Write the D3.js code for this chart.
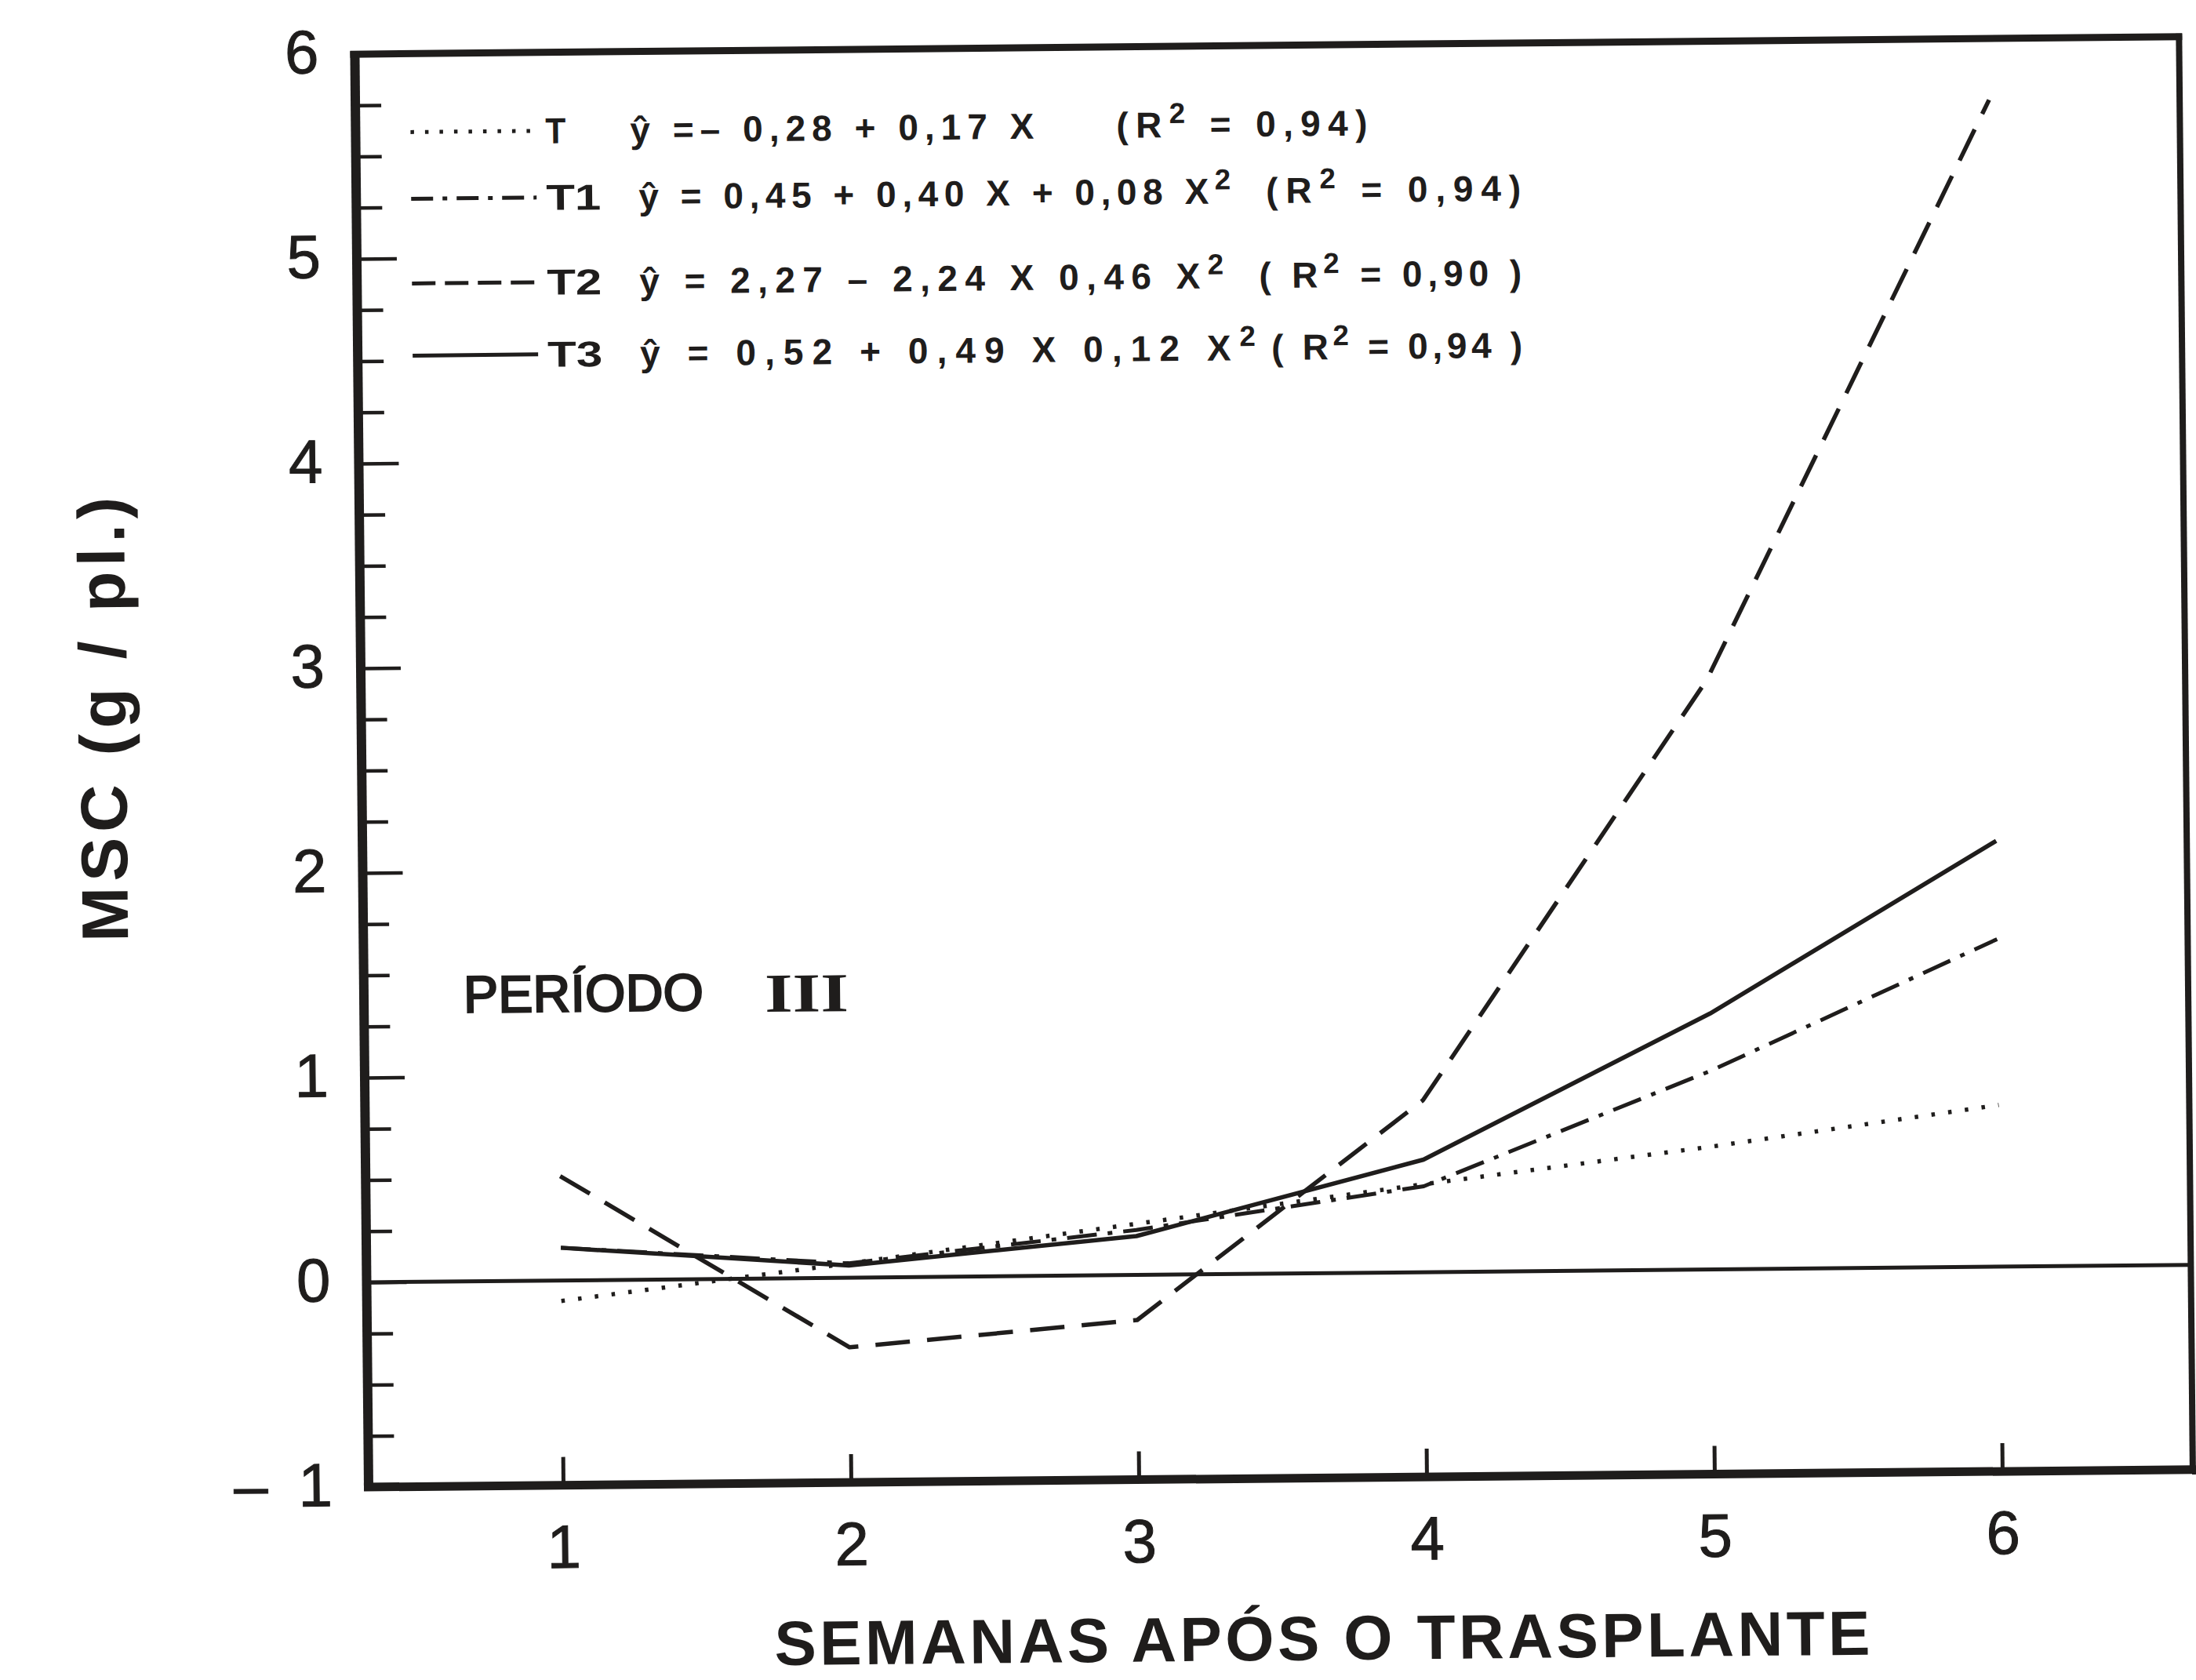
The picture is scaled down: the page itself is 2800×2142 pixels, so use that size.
<!DOCTYPE html>
<html>
<head>
<meta charset="utf-8">
<script src="https://cdn.jsdelivr.net/npm/d3@7"></script>
<style>
  html, body { margin: 0; padding: 0; background: #ffffff; }
  svg { display: block; }
</style>
</head>
<body>
<svg id="chart" width="2800" height="2142"></svg>
<script>
// Weeks after transplanting (x axis)
const weeks = [1, 2, 3, 4, 5, 6];

// Dry matter of the shoot, MSC (g / plant), period III, one array per treatment
const seriesT  = [-0.10, 0.07, 0.25, 0.43, 0.60, 0.79];
const seriesT1 = [0.16, 0.07, 0.22, 0.42, 0.97, 1.60];
const seriesT2 = [0.51, -0.34, -0.22, 0.84, 2.88, 5.70];
const seriesT3 = [0.16, 0.06, 0.19, 0.55, 1.25, 2.08];

// Treatment names and fitted regression equations ("^2" marks a superscript 2)
const seriesNames = ["T", "T1", "T2", "T3"];
const equations = [
  "ŷ =– 0,28 + 0,17 X",
  "ŷ = 0,45 + 0,40 X + 0,08 X^2",
  "ŷ = 2,27 – 2,24 X 0,46 X^2",
  "ŷ = 0,52 + 0,49 X 0,12 X^2"
];
const r2Labels = ["(R^2 = 0,94)", "(R^2 = 0,94)", "( R^2 = 0,90 )", "( R^2 = 0,94 )"];

// Axis ticks
const yTickValues = [-1, 0, 1, 2, 3, 4, 5, 6];
const yMinorStep = 0.25;
const xTickValues = weeks;

// Texts
const yTitle = "MSC (g / pl.)";
const xTitle = "SEMANAS APÓS O TRASPLANTE";
const periodWord = "PERÍODO";
const periodNumber = "III";

// ---- layout & style ----
const INK = "#1f1d1c";
const FONT = "'Liberation Sans', Arial, Helvetica, sans-serif";
const SERIF = "'Liberation Serif', 'Times New Roman', serif";

const svg = d3.select("#chart");
svg.append("rect").attr("width", 2800).attr("height", 2142).attr("fill", "#ffffff");

// the printed figure sits slightly tilted on the page
const g = svg.append("g").attr("transform", "rotate(-0.55, 470, 1896)");

const x = d3.scaleLinear().domain([1, 6]).range([718, 2553]);
const y = d3.scaleLinear().domain([-1, 6]).range([1896, 69]);

const frame = { left: 470, right: 2796, top: y(6), bottom: y(-1) };

// ---- left axis: minor ticks ----
const minorTicks = d3.range(-1, 6 + 1e-9, yMinorStep).filter(v => Math.abs(v - Math.round(v)) > 1e-6);
const yMinor = g.append("g")
  .attr("transform", `translate(${frame.left},0)`)
  .call(d3.axisLeft(y).tickValues(minorTicks).tickSizeInner(-33).tickSizeOuter(0).tickFormat(""));
yMinor.select(".domain").remove();
yMinor.selectAll(".tick line").attr("stroke", INK).attr("stroke-width", 4.5);

// ---- left axis: major ticks with labels ----
const yMajor = g.append("g")
  .attr("transform", `translate(${frame.left},0)`)
  .call(d3.axisLeft(y).tickValues(yTickValues).tickSizeInner(-51).tickSizeOuter(0).tickPadding(46)
    .tickFormat(d => d < 0 ? "–\u2002" + Math.abs(d) : String(d)));
yMajor.select(".domain").remove();
yMajor.selectAll(".tick line").attr("stroke", INK).attr("stroke-width", 4.5);
yMajor.selectAll(".tick text")
  .attr("fill", INK).attr("stroke", INK).attr("stroke-width", 1)
  .attr("font-family", FONT).attr("font-size", 78).attr("dy", "0.30em");

// ---- bottom axis ----
const xAxis = g.append("g")
  .attr("transform", `translate(0,${frame.bottom})`)
  .call(d3.axisBottom(x).tickValues(xTickValues).tickSizeInner(-36).tickSizeOuter(0).tickPadding(50)
    .tickFormat(d3.format("d")));
xAxis.select(".domain").remove();
xAxis.selectAll(".tick line").attr("stroke", INK).attr("stroke-width", 5);
xAxis.selectAll(".tick text")
  .attr("fill", INK).attr("stroke", INK).attr("stroke-width", 1)
  .attr("font-family", FONT).attr("font-size", 78);

// ---- frame and zero line ----
g.append("line").attr("x1", frame.left).attr("x2", frame.right).attr("y1", y(0)).attr("y2", y(0))
  .attr("stroke", INK).attr("stroke-width", 5);
g.append("line").attr("x1", frame.left - 6).attr("x2", frame.right + 4).attr("y1", frame.top).attr("y2", frame.top)
  .attr("stroke", INK).attr("stroke-width", 9);
g.append("line").attr("x1", frame.left - 6).attr("x2", frame.right + 4).attr("y1", frame.bottom).attr("y2", frame.bottom)
  .attr("stroke", INK).attr("stroke-width", 11);
g.append("line").attr("x1", frame.left).attr("x2", frame.left).attr("y1", frame.top - 4).attr("y2", frame.bottom + 5)
  .attr("stroke", INK).attr("stroke-width", 12);
g.append("line").attr("x1", frame.right).attr("x2", frame.right).attr("y1", frame.top - 4).attr("y2", frame.bottom + 5)
  .attr("stroke", INK).attr("stroke-width", 8);

// ---- treatment curves ----
const allSeries = [seriesT, seriesT1, seriesT2, seriesT3];
const lineStyles = [
  { dash: "4.5,17", legendDash: "4.5,14", width: 5.5 },
  { dash: "38,14,6,14", legendDash: "28,12,6,12", width: 5 },
  { dash: "44,22", legendDash: "30,12", width: 5.5 },
  { dash: null, legendDash: null, width: 5.5 }
];

const line = d3.line().x(d => x(d[0])).y(d => y(d[1]));

allSeries.forEach((vals, i) => {
  const pts = weeks.map((w, k) => [w, vals[k]]);
  g.append("path")
    .attr("d", line(pts))
    .attr("fill", "none")
    .attr("stroke", INK)
    .attr("stroke-width", lineStyles[i].width)
    .attr("stroke-linejoin", "round")
    .attr("stroke-dasharray", lineStyles[i].dash);
});

// ---- legend with regression equations ----
const legendLayout = [
  { base: 185, eqStart: 820, eqEnd: 1335, rStart: 1440, rEnd: 1760 },
  { base: 270, eqStart: 830, eqEnd: 1585, rStart: 1630, rEnd: 1955 },
  { base: 378, eqStart: 830, eqEnd: 1575, rStart: 1620, rEnd: 1955 },
  { base: 470, eqStart: 830, eqEnd: 1615, rStart: 1635, rEnd: 1955 }
];
const LEG_SIZE = 46;

function writeWithSuperscripts(textSel, str, size) {
  const parts = str.split("^2");
  parts.forEach((p, k) => {
    const t = textSel.append("tspan").text(p);
    if (k > 0) t.attr("dy", 18);
    if (k < parts.length - 1) {
      textSel.append("tspan").attr("dy", -18).attr("font-size", size * 0.8).text("2");
    }
  });
}

seriesNames.forEach((name, i) => {
  const L = legendLayout[i];
  const ly = L.base - 16;
  g.append("line")
    .attr("x1", 540).attr("x2", 700).attr("y1", ly).attr("y2", ly)
    .attr("stroke", INK).attr("stroke-width", 5)
    .attr("stroke-dasharray", lineStyles[i].legendDash);

  g.append("text")
    .attr("x", 712).attr("y", L.base)
    .attr("font-family", FONT).attr("font-weight", "bold").attr("font-size", LEG_SIZE)
    .attr("fill", INK)
    .attr("textLength", name.length > 1 ? 70 : 26).attr("lengthAdjust", "spacingAndGlyphs")
    .text(name);

  const eq = g.append("text")
    .attr("x", L.eqStart).attr("y", L.base)
    .attr("font-family", FONT).attr("font-weight", "bold").attr("font-size", LEG_SIZE)
    .attr("fill", INK)
    .attr("textLength", L.eqEnd - L.eqStart).attr("lengthAdjust", "spacing");
  writeWithSuperscripts(eq, equations[i], LEG_SIZE);

  const r2 = g.append("text")
    .attr("x", L.rStart).attr("y", L.base)
    .attr("font-family", FONT).attr("font-weight", "bold").attr("font-size", LEG_SIZE)
    .attr("fill", INK)
    .attr("textLength", L.rEnd - L.rStart).attr("lengthAdjust", "spacing");
  writeWithSuperscripts(r2, r2Labels[i], LEG_SIZE);
});

// ---- period label ----
g.append("text")
  .attr("x", 597).attr("y", 1292)
  .attr("font-family", FONT).attr("font-size", 66)
  .attr("fill", INK).attr("stroke", INK).attr("stroke-width", 2.5)
  .attr("textLength", 306).attr("lengthAdjust", "spacing")
  .text(periodWord);
g.append("text")
  .attr("x", 981).attr("y", 1295)
  .attr("font-family", SERIF).attr("font-weight", "bold").attr("font-size", 70)
  .attr("fill", INK)
  .attr("textLength", 107).attr("lengthAdjust", "spacingAndGlyphs")
  .text(periodNumber);

// ---- axis titles ----
g.append("text")
  .attr("transform", "translate(170,914) rotate(-90)")
  .attr("text-anchor", "middle")
  .attr("font-family", FONT).attr("font-weight", "bold").attr("font-size", 84)
  .attr("fill", INK)
  .attr("textLength", 567).attr("lengthAdjust", "spacing")
  .text(yTitle);

g.append("text")
  .attr("x", 1684).attr("y", 2128)
  .attr("text-anchor", "middle")
  .attr("font-family", FONT).attr("font-weight", "bold").attr("font-size", 80)
  .attr("fill", INK)
  .attr("textLength", 1397).attr("lengthAdjust", "spacing")
  .text(xTitle);
</script>
</body>
</html>
